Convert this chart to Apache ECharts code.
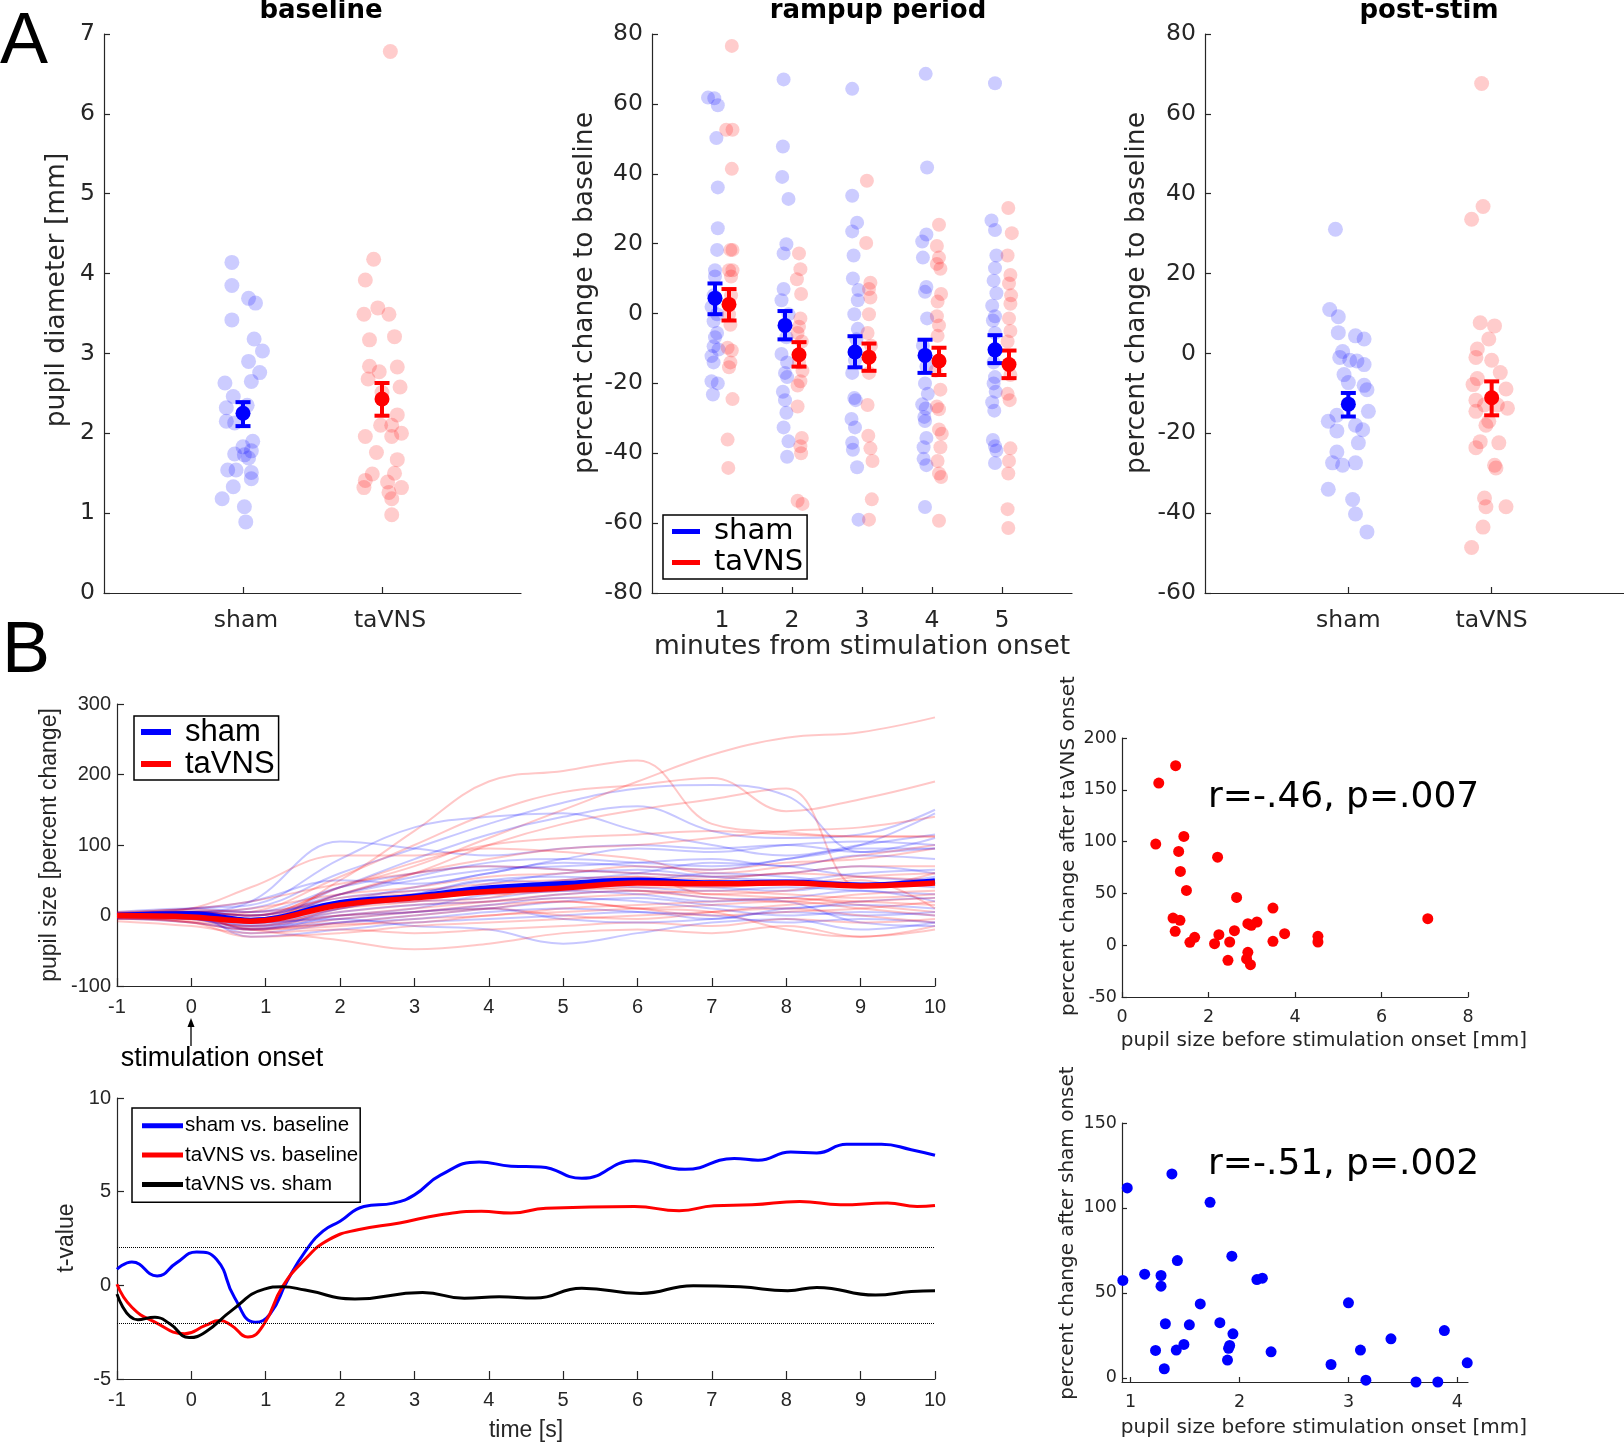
<!DOCTYPE html>
<html>
<head>
<meta charset="utf-8">
<script src="https://cdn.jsdelivr.net/npm/echarts@6/dist/echarts.min.js"></script>
<style>
  html, body { margin: 0; padding: 0; background: #fff; }
  #chart { width: 1624px; height: 1444px; }
</style>
</head>
<body>
<div id="chart"></div>
<script>
// ---- A: baseline pupil diameter [mm], points as [jittered x, value]
const groups = ['sham', 'taVNS'];
const baselineSham = [[0.92,4.14],[0.92,3.85],[1.04,3.69],[1.09,3.63],[0.92,3.42],[1.08,3.18],[1.14,3.03],[1.04,2.90],
  [1.12,2.76],[1.06,2.65],[0.87,2.63],[0.93,2.46],[0.88,2.32],[1.03,2.35],[0.88,2.15],[0.94,2.13],[1.07,1.90],[1.00,1.83],
  [0.94,1.74],[1.01,1.73],[1.06,1.78],[1.04,1.69],[0.89,1.54],[0.95,1.54],[1.06,1.51],[1.06,1.43],[0.93,1.33],[0.85,1.18],
  [1.01,1.08],[1.02,0.89]];
const baselineTavns = [[2.06,6.78],[1.94,4.18],[1.88,3.92],[1.97,3.57],[1.87,3.49],[2.05,3.49],[1.91,3.17],[2.09,3.21],
  [1.91,2.84],[2.11,2.83],[1.98,2.77],[1.90,2.68],[2.13,2.58],[2.00,2.51],[2.11,2.23],[1.99,2.10],[2.07,2.10],[1.88,1.96],
  [2.07,1.96],[2.14,2.00],[1.96,1.76],[2.11,1.67],[1.93,1.49],[2.09,1.50],[1.88,1.41],[1.87,1.32],[2.04,1.39],[2.14,1.32],
  [2.05,1.26],[2.07,1.18],[2.07,0.98]];
// [x, mean, low, high]
const baselineMeanSham = [[1, 2.25, 2.09, 2.39]];
const baselineMeanTavns = [[2, 2.43, 2.22, 2.63]];

// ---- A: rampup period, percent change, minutes 1..5
const minutes = [1, 2, 3, 4, 5];
const rampSham = [
  [0.80,61.8],[0.89,61.6],[0.94,59.6],[0.92,50.2],[0.94,36.1],[0.94,24.4],[0.93,18.2],[0.90,12.4],[0.90,10.6],[0.88,5.2],
  [0.85,1.9],[0.93,-0.2],[0.88,-2.2],[0.93,-5.6],[0.90,-6.8],[0.88,-9.4],[0.95,-10.3],[0.85,-12.2],[0.88,-14.0],[0.85,-19.4],
  [0.94,-20.0],[0.87,-23.2],
  [1.88,67.0],[1.87,47.8],[1.86,39.1],[1.95,32.8],[1.92,19.8],[1.88,17.2],[1.88,7.0],[1.85,3.8],[1.95,-0.2],[1.90,-3.2],
  [1.92,-6.8],[1.85,-11.6],[1.93,-14.0],[1.90,-17.0],[1.93,-18.2],[1.87,-22.4],[1.90,-24.8],[1.92,-28.4],[1.88,-32.6],
  [1.95,-36.6],[1.93,-41.0],
  [2.86,64.3],[2.86,33.7],[2.93,26.0],[2.86,23.5],[2.88,16.6],[2.87,10.0],[2.95,6.7],[2.94,3.8],[2.89,-0.2],[2.94,-4.4],
  [2.92,-7.4],[2.90,-13.4],[2.86,-17.0],[2.89,-24.2],[2.91,-24.8],[2.85,-30.2],[2.90,-32.6],[2.86,-37.0],[2.87,-39.0],
  [2.93,-44.0],[2.95,-59.0],
  [3.91,68.6],[3.93,41.8],[3.92,22.6],[3.86,20.6],[3.87,16.0],[3.92,7.6],[3.90,6.2],[3.93,-1.4],[3.87,-9.2],[3.92,-15.2],
  [3.90,-20.0],[3.94,-23.0],[3.86,-26.0],[3.91,-27.2],[3.89,-29.6],[3.90,-30.8],[3.92,-35.6],[3.88,-38.3],[3.88,-41.6],
  [3.92,-43.4],[3.90,-55.4],
  [4.90,65.9],[4.85,26.6],[4.90,23.9],[4.92,16.6],[4.90,13.0],[4.88,9.4],[4.92,5.8],[4.86,2.2],[4.90,-0.8],[4.87,-2.0],
  [4.90,-5.6],[4.88,-14.0],[4.90,-18.2],[4.88,-20.0],[4.91,-22.4],[4.86,-25.4],[4.89,-27.8],[4.87,-36.2],[4.90,-38.0],
  [4.92,-39.2],[4.90,-42.8]];
const rampTavns = [
  [1.14,76.6],[1.06,52.6],[1.15,52.6],[1.14,41.4],[1.12,18.2],[1.15,18.2],[1.10,12.4],[1.15,12.4],[1.13,10.6],[1.13,5.2],
  [1.10,-0.2],[1.12,-3.2],[1.08,-9.8],[1.14,-10.6],[1.12,-14.0],[1.10,-15.4],[1.15,-24.5],[1.08,-36.1],[1.09,-44.2],
  [2.10,17.2],[2.12,12.7],[2.07,9.8],[2.13,5.6],[2.12,-1.4],[2.10,-3.8],[2.08,-5.6],[2.14,-8.0],[2.10,-14.0],[2.15,-16.4],
  [2.12,-19.4],[2.08,-20.6],[2.08,-26.6],[2.14,-35.6],[2.12,-38.0],[2.13,-40.0],[2.08,-53.6],[2.15,-54.5],
  [3.07,38.0],[3.06,20.2],[3.12,8.8],[3.10,7.0],[3.12,4.6],[3.10,-0.2],[3.08,-5.6],[3.13,-9.2],[3.10,-17.0],[3.08,-26.2],
  [3.09,-35.0],[3.12,-38.6],[3.15,-42.2],[3.14,-53.2],[3.10,-59.0],
  [4.10,25.4],[4.07,19.3],[4.10,16.0],[4.07,14.2],[4.12,12.8],[4.13,5.6],[4.08,3.4],[4.07,-0.8],[4.10,-3.4],[4.08,-6.4],
  [4.05,-16.4],[4.12,-21.8],[4.07,-26.6],[4.10,-27.4],[4.10,-33.2],[4.14,-34.4],[4.12,-38.3],[4.08,-42.2],[4.10,-45.8],
  [4.13,-46.8],[4.10,-59.3],
  [5.09,30.2],[5.14,23.0],[5.08,16.6],[5.12,11.0],[5.10,8.6],[5.13,5.2],[5.12,2.8],[5.10,-1.4],[5.12,-5.0],[5.08,-8.0],
  [5.12,-17.6],[5.08,-23.0],[5.11,-24.8],[5.12,-38.6],[5.10,-42.2],[5.09,-45.8],[5.08,-56.0],[5.09,-61.4]];
const rampMeanSham = [[0.9,4.4,-0.2,8.6],[1.9,-3.4,-7.4,0.7],[2.9,-11.0,-15.4,-6.5],[3.9,-12.0,-17.0,-7.5],[4.9,-10.4,-14.2,-6.2]];
const rampMeanTavns = [[1.1,2.6,-2.0,7.0],[2.1,-11.8,-15.2,-8.2],[3.1,-12.5,-16.4,-8.6],[4.1,-13.6,-17.6,-9.8],[5.1,-14.6,-18.5,-10.6]];

// ---- A: post-stim percent change
const postSham = [[0.91,31.1],[0.87,11.0],[0.93,9.2],[0.93,5.2],[1.05,4.4],[1.11,3.6],[0.96,0.5],[0.94,-1.0],[1.01,-1.7],
  [1.06,-1.9],[1.11,-2.8],[0.97,-5.3],[1.00,-7.3],[1.11,-8.0],[1.13,-9.1],[1.14,-14.5],[0.92,-15.5],[0.86,-17.0],[1.05,-18.0],
  [1.10,-19.1],[0.92,-19.4],[1.07,-22.4],[0.92,-24.7],[0.89,-27.4],[0.96,-28.0],[1.05,-27.4],[0.86,-34.0],[1.03,-36.6],
  [1.05,-40.2],[1.13,-44.7]];
const postTavns = [[1.93,67.6],[1.94,36.8],[1.86,33.6],[1.92,7.7],[2.02,6.9],[1.98,3.6],[1.90,1.1],[1.89,-1.0],[2.00,-1.7],
  [2.06,-4.8],[1.90,-6.3],[1.87,-7.8],[2.10,-8.9],[1.89,-11.7],[1.95,-12.9],[2.04,-12.9],[2.11,-13.7],[1.89,-14.5],[1.98,-17.0],
  [1.96,-18.0],[1.92,-22.1],[2.05,-22.4],[1.89,-23.6],[2.02,-28.0],[2.03,-28.7],[1.95,-36.2],[1.96,-38.4],[2.10,-38.4],
  [1.94,-43.5],[1.86,-48.6]];
const postMeanSham = [[1, -12.7, -15.8, -9.9]];
const postMeanTavns = [[2, -11.1, -15.5, -7.0]];

// ---- B: pupil size time courses [percent change], sampled on timeGrid
const timeGrid = [-1, 0, 0.8, 2, 3, 4, 5, 6, 7, 8, 9, 10];
const shamTraces = [
  [0, 5, 10, 60, 95, 130, 160, 180, 185, 170, 90, 110],
  [2, 0, -5, 40, 80, 115, 140, 155, 120, 110, 115, 150],
  [-2, 10, 15, 80, 125, 140, 145, 120, 100, 85, 100, 115],
  [0, 0, -10, -5, -15, -20, -40, -25, -10, -5, -20, -10],
  [3, 5, 20, 105, 95, 85, 95, 100, 95, 100, 90, 95],
  [0, 0, -10, 30, 55, 75, 80, 75, 70, 80, 100, 145],
  [-3, 5, -5, 20, 40, 60, 75, 70, 65, 80, 95, 95],
  [0, 0, -20, 10, 25, 45, 60, 65, 55, 50, 60, 65],
  [-5, -5, -25, -10, 0, 10, 20, 25, 15, 10, 20, 25],
  [2, 5, 0, 25, 35, 40, 50, 60, 75, 70, 55, 50],
  [5, 10, 5, 20, 30, 50, 45, 40, 35, 40, 35, 30],
  [0, 0, -30, -20, -10, -5, 0, 5, -5, 10, 15, 10],
  [-2, -5, -15, 5, 15, 20, 30, 35, 25, 20, -10, -15],
  [3, 5, 5, 40, 60, 70, 65, 60, 55, 60, 70, 60],
  [0, 0, -15, -5, 5, 10, -5, -10, -5, 5, 0, 5],
  [4, 10, 20, 50, 45, 60, 80, 95, 90, 100, 105, 100],
  [-4, -10, -20, 0, 10, 30, 35, 45, 40, 35, 45, 40],
  [0, 0, -5, 15, 20, 25, 35, 30, 20, 25, 35, 20],
  [1, 3, -10, 10, 30, 50, 55, 50, 60, 55, 45, 55],
  [-1, -2, -12, 0, 5, 15, 25, 20, 10, 0, 5, 0],
  [2, 6, 0, 30, 50, 65, 70, 75, 80, 70, 85, 80],
  [0, -4, -18, -10, -5, 5, 10, 5, 0, -10, -5, -10]];
const tavnsTraces = [
  [2, 5, 0, 40, 70, 110, 150, 190, 228, 252, 260, 281],
  [0, -5, -10, 50, 120, 190, 205, 220, 130, 118, 112, 112],
  [-3, 0, 5, 55, 100, 145, 175, 185, 195, 148, 165, 190],
  [3, 5, 0, 30, 60, 100, 130, 150, 165, 180, 40, 60],
  [0, 10, 40, 85, 85, 95, 90, 80, 60, 70, 85, 100],
  [-2, 0, -5, 30, 60, 80, 95, 100, 110, 120, 125, 140],
  [0, 5, 0, 40, 75, 100, 110, 115, 120, 115, 112, 112],
  [-5, -5, -20, -35, -48, -40, -25, -20, -25, -15, -30, -20],
  [0, -10, -20, -10, 0, 10, 20, 10, 5, -20, -30, -15],
  [-3, -10, -20, -15, -5, 0, 10, 15, 20, 25, 15, 5],
  [0, -5, -15, 10, 25, 35, 45, 55, 50, 45, 55, 60],
  [2, 0, -10, 5, 15, 20, 25, 30, 35, 30, 25, 30],
  [-8, -15, -25, -20, -25, -20, -15, -10, -15, -5, -10, -5],
  [4, 5, 10, 30, 40, 55, 60, 70, 65, 75, 80, 95],
  [0, 0, -20, -5, 5, 15, 20, 10, 0, 5, 10, 20],
  [5, 10, 20, 45, 60, 70, 65, 60, 55, 60, 70, 70],
  [-5, -10, -30, -25, -15, -10, -5, 0, 5, 10, 0, -10],
  [0, 5, 0, 20, 30, 30, 35, 40, 40, 45, 40, 45],
  [-2, -5, -10, 0, 5, 10, 0, -5, 5, 15, 20, 25],
  [3, 0, -5, 15, 20, 25, 50, 55, 30, 35, 50, 10],
  [0, -8, -15, 0, 10, 20, 30, 35, 30, 25, 20, 15],
  [2, 8, 5, 25, 35, 45, 50, 45, 50, 60, 55, 50],
  [-4, -3, -18, -12, -10, 0, 5, 10, 15, 20, 10, 0],
  [1, 3, -8, 10, 20, 35, 40, 35, 25, 20, 30, 35]];
const shamMeanTrace = [0, 2, -7, 18, 27, 39, 45, 50, 46, 47, 43, 49];
const tavnsMeanTrace = [0, -2, -8, 15, 25, 34, 39, 46, 45, 46, 42, 46];

// ---- B: t-values over time [t, value]
const tShamBase = [[-1,0.86],[-0.8,1.25],[-0.46,0.5],[-0.2,1.2],[0.07,1.78],[0.34,1.38],[0.58,-0.65],[0.86,-1.97],[1.06,-1.52],
  [1.29,0.24],[1.53,1.8],[1.77,2.89],[2.0,3.42],[2.32,4.21],[2.72,4.39],[3.0,4.83],[3.35,5.88],[3.87,6.59],[4.3,6.36],[4.7,6.32],
  [5.25,5.71],[5.96,6.65],[6.64,6.19],[7.3,6.77],[7.62,6.68],[8.06,7.12],[8.41,7.07],[8.81,7.53],[9.28,7.53],[9.68,7.24],[10,6.94]];
const tTavnsBase = [[-1,0.06],[-0.8,-1.17],[-0.49,-1.96],[-0.09,-2.58],[0.19,-2.14],[0.38,-1.88],[0.54,-2.14],[0.76,-2.76],
  [0.98,-2.05],[1.22,-0.11],[1.53,1.39],[1.85,2.44],[2.24,2.97],[2.8,3.33],[3.35,3.77],[3.9,3.95],[4.3,3.86],[4.77,4.12],
  [5.96,4.21],[6.56,3.98],[7.03,4.25],[7.54,4.3],[8.18,4.48],[8.73,4.3],[9.36,4.39],[9.76,4.21],[10,4.26]];
const tTavnsSham = [[-1,-0.47],[-0.72,-1.84],[-0.49,-1.7],[-0.29,-2.05],[-0.03,-2.79],[0.19,-2.49],[0.54,-1.35],[0.98,-0.2],
  [1.22,-0.08],[1.53,-0.25],[2.2,-0.73],[3.11,-0.38],[3.67,-0.69],[4.14,-0.61],[4.62,-0.68],[5.25,-0.15],[6.04,-0.43],
  [6.75,-0.02],[7.38,-0.08],[8.02,-0.29],[8.41,-0.11],[9.2,-0.52],[9.68,-0.33],[10,-0.29]];
const tCrit = [2.04, -2.04];

// ---- B: correlations [pupil size before onset mm, percent change]
const corrTavns = [[1.24,173.3],[0.85,156.5],[0.78,97.6],[1.43,105.0],[1.31,90.5],[1.35,71.2],[1.49,52.9],[2.21,85.0],[2.65,46.1],
  [3.49,35.8],[1.18,26.2],[1.34,24.0],[1.23,13.4],[1.57,2.8],[1.68,7.6],[2.14,1.5],[2.24,10.2],[2.49,3.1],[2.60,14.0],[2.45,-14.6],
  [2.91,20.8],[2.99,19.2],[3.12,22.4],[2.91,-6.9],[2.88,-13.3],[2.97,-18.8],[3.49,3.7],[3.76,11.1],[4.53,8.6],[4.53,3.1],[7.07,25.6]];
const corrSham = [[0.93,57.3],[0.97,111.8],[1.13,61.0],[1.28,60.2],[1.28,53.9],[1.38,120.0],[1.43,69.0],[1.73,103.3],[1.93,71.6],
  [2.16,57.8],[2.21,58.6],[1.64,43.5],[1.32,31.8],[1.54,31.2],[1.82,32.4],[1.94,25.9],[1.23,16.1],[1.42,16.3],[1.49,19.6],
  [1.91,19.0],[1.90,17.3],[1.89,10.4],[1.31,5.3],[2.29,15.3],[2.84,7.8],[3.00,44.1],[3.11,16.3],[3.16,-1.4],[3.39,22.9],
  [3.62,-2.5],[3.82,-2.5],[3.88,27.8],[4.09,8.8]];

const BLUE = '#0000ff', RED = '#ff0000', AX = '#262626';
const FA = 'DejaVu Sans', FB = 'Liberation Sans';

const chart = echarts.init(document.getElementById('chart'), null, { renderer: 'canvas' });

function grid(left, top, width, height) {
  return { left, top, width, height, containLabel: false, outerBoundsMode: 'none' };
}
function axis(gi, min, max, opts) {
  const o = opts || {};
  const font = o.font || FA, size = o.size || 23.5;
  const a = {
    gridIndex: gi, type: 'value', min, max, scale: true,
    axisLine: { show: true, onZero: false, lineStyle: { color: AX, width: 1.2 } },
    axisTick: { show: true, inside: true, length: o.tick || 6, lineStyle: { color: AX, width: 1.2 } },
    axisLabel: { show: true, color: AX, fontFamily: font, fontSize: size, margin: o.margin || 10,
      showMinLabel: true, showMaxLabel: true },
    splitLine: { show: false }
  };
  if (o.interval) a.interval = o.interval;
  if (o.custom) { a.axisTick.customValues = o.custom; a.axisLabel.customValues = o.custom; }
  if (o.formatter) a.axisLabel.formatter = o.formatter;
  if (o.rich) a.axisLabel.rich = o.rich;
  return a;
}
// group labels sit a little right of their ticks in the original figure
const groupRich = {
  s: { fontFamily: FA, fontSize: 23.5, color: AX, padding: [0, 0, 0, 6] },
  t: { fontFamily: FA, fontSize: 23.5, color: AX, padding: [0, 0, 0, 16] }
};
function dots(data, color, gi, size) {
  return { type: 'scatter', xAxisIndex: gi, yAxisIndex: gi, data, symbolSize: size || 15, silent: true, z: 2,
    itemStyle: { color, opacity: 0.2 } };
}
function meanDot(name, data, color, gi) {
  return { type: 'scatter', name, xAxisIndex: gi, yAxisIndex: gi, data: data.map(d => [d[0], d[1]]),
    symbolSize: 15, silent: true, z: 6, itemStyle: { color, opacity: 1 } };
}
function errBar(data, color, gi) {
  return {
    type: 'custom', xAxisIndex: gi, yAxisIndex: gi, silent: true, z: 5,
    data: data.map(d => [d[0], d[2], d[3]]),
    renderItem: function (params, api) {
      const hi = api.coord([api.value(0), api.value(2)]);
      const lo = api.coord([api.value(0), api.value(1)]);
      const w = 7.5;
      const st = { stroke: color, lineWidth: 4 };
      return { type: 'group', children: [
        { type: 'line', shape: { x1: hi[0], y1: hi[1], x2: lo[0], y2: lo[1] }, style: st },
        { type: 'line', shape: { x1: hi[0] - w, y1: hi[1], x2: hi[0] + w, y2: hi[1] }, style: st },
        { type: 'line', shape: { x1: lo[0] - w, y1: lo[1], x2: lo[0] + w, y2: lo[1] }, style: st }
      ] };
    }
  };
}
function trace(vals, color, width, z, name) {
  return { type: 'line', name, xAxisIndex: 3, yAxisIndex: 3, smooth: 0.4, showSymbol: false, silent: true, z,
    data: timeGrid.map((t, i) => [t, vals[i]]), lineStyle: { color, width }, itemStyle: { color } };
}
function tLine(name, data, color, extra) {
  return Object.assign({ type: 'line', name, xAxisIndex: 4, yAxisIndex: 4, smooth: 0.5, showSymbol: false, silent: true,
    z: 3, data, lineStyle: { color, width: 3 }, itemStyle: { color } }, extra || {});
}

const series = [];
// A baseline
series.push(dots(baselineSham, BLUE, 0), dots(baselineTavns, RED, 0));
series.push(errBar(baselineMeanSham, BLUE, 0), errBar(baselineMeanTavns, RED, 0));
series.push(meanDot('', baselineMeanSham, BLUE, 0), meanDot('', baselineMeanTavns, RED, 0));
// A rampup
series.push(dots(rampSham, BLUE, 1, 14), dots(rampTavns, RED, 1, 14));
series.push(errBar(rampMeanSham, BLUE, 1), errBar(rampMeanTavns, RED, 1));
series.push(meanDot('sham', rampMeanSham, BLUE, 1), meanDot('taVNS', rampMeanTavns, RED, 1));
// A post-stim
series.push(dots(postSham, BLUE, 2), dots(postTavns, RED, 2));
series.push(errBar(postMeanSham, BLUE, 2), errBar(postMeanTavns, RED, 2));
series.push(meanDot('', postMeanSham, BLUE, 2), meanDot('', postMeanTavns, RED, 2));
// B time courses
const nTr = Math.max(shamTraces.length, tavnsTraces.length);
for (let i = 0; i < nTr; i++) {
  if (shamTraces[i]) series.push(trace(shamTraces[i], 'rgba(0,0,255,0.22)', 2, 2));
  if (tavnsTraces[i]) series.push(trace(tavnsTraces[i], 'rgba(255,0,0,0.22)', 2, 2));
}
series.push(trace(shamMeanTrace, BLUE, 5.5, 4, 'sham'), trace(tavnsMeanTrace, RED, 5.5, 5, 'taVNS'));
// B t-values
series.push(tLine('sham vs. baseline', tShamBase, BLUE, {
  markLine: { silent: true, symbol: 'none', label: { show: false },
    lineStyle: { color: '#000', type: 'dotted', width: 1 }, data: tCrit.map(v => ({ yAxis: v })) }
}));
series.push(tLine('taVNS vs. baseline', tTavnsBase, RED));
series.push(tLine('taVNS vs. sham', tTavnsSham, '#000'));
// B correlations
series.push({ type: 'scatter', xAxisIndex: 5, yAxisIndex: 5, data: corrTavns, symbolSize: 11, silent: true, itemStyle: { color: RED, opacity: 1 } });
series.push({ type: 'scatter', xAxisIndex: 6, yAxisIndex: 6, data: corrSham, symbolSize: 11, silent: true, itemStyle: { color: BLUE, opacity: 1 } });

function legendBox(left, top, names, o) {
  return {
    left, top, orient: 'vertical', selectedMode: false, icon: 'rect',
    data: names.map((n, i) => ({ name: n, itemStyle: { color: o.colors[i], borderWidth: 0, opacity: 1 } })),
    itemWidth: o.w, itemHeight: o.h, itemGap: 0, padding: o.pad,
    backgroundColor: '#fff', borderColor: '#000', borderWidth: 1.5, borderRadius: 0,
    lineStyle: { width: 0 },
    textStyle: { fontFamily: o.font, fontSize: o.size, color: '#000', lineHeight: o.lh, padding: [0, 0, 0, o.gap] }
  };
}

function txt(text, x, y, size, opts) {
  const o = opts || {};
  return { type: 'text', x, y, rotation: o.rot || 0, silent: true, z: 100,
    style: { text, fontFamily: o.font || FA, fontSize: size, fontWeight: o.bold ? 'bold' : 'normal',
      fill: o.color || AX, align: o.align || 'center', verticalAlign: 'middle' } };
}
const V = Math.PI / 2;

const option = {
  animation: false,
  backgroundColor: '#fff',
  grid: [
    grid(104, 34, 417, 559),
    grid(652, 34, 420, 559),
    grid(1205, 34, 430, 559),
    grid(117, 704, 818, 282),
    grid(117, 1098, 818, 281),
    grid(1122, 738, 346, 259),
    grid(1122, 1123, 346, 259)
  ],
  xAxis: [
    axis(0, 0, 3, { custom: [1, 2], formatter: v => (v === 1 ? '{s|' : '{t|') + groups[v - 1] + '}', rich: groupRich, margin: 16 }),
    axis(1, 0, 6, { custom: minutes, margin: 16 }),
    axis(2, 0, 3, { custom: [1, 2], formatter: v => groups[v - 1], margin: 16 }),
    axis(3, -1, 10, { interval: 1, font: FB, size: 20, tick: 8, margin: 11 }),
    axis(4, -1, 10, { interval: 1, font: FB, size: 20, tick: 8, margin: 11 }),
    axis(5, 0, 8, { interval: 2, size: 17.5, tick: 5, margin: 11 }),
    axis(6, 0.922, 4.097, { custom: [1, 2, 3, 4], size: 17.5, tick: 5, margin: 11 })
  ],
  yAxis: [
    axis(0, 0, 7, { interval: 1, margin: 9 }),
    axis(1, -80, 80, { interval: 20, margin: 9 }),
    axis(2, -60, 80, { interval: 20, margin: 9 }),
    axis(3, -100, 300, { interval: 100, font: FB, size: 20, tick: 7, margin: 6 }),
    axis(4, -5, 10, { interval: 5, font: FB, size: 20, tick: 7, margin: 6 }),
    axis(5, -50, 200, { interval: 50, size: 17.5, tick: 5, margin: 5 }),
    axis(6, -2.5, 150, { custom: [0, 50, 100, 150], size: 17.5, tick: 5, margin: 5 })
  ],
  legend: [
    legendBox(663, 515, ['sham', 'taVNS'], { colors: [BLUE, RED], w: 28, h: 5, pad: [1, 4, 1, 9], font: FA, size: 29, lh: 31, gap: 9 }),
    legendBox(134, 716, ['sham', 'taVNS'], { colors: [BLUE, RED], w: 30, h: 6, pad: [0, 4, 0, 7], font: FB, size: 31, lh: 32, gap: 9 }),
    legendBox(132, 1108, ['sham vs. baseline', 'taVNS vs. baseline', 'taVNS vs. sham'],
      { colors: [BLUE, RED, '#000'], w: 41, h: 5, pad: [3, 2, 3, 10], font: FB, size: 20.5, lh: 29.4, gap: -3 })
  ],
  graphic: [
    txt('A', 24, 43, 72, { font: FB, color: '#000' }),
    txt('B', 26, 652, 72, { font: FB, color: '#000' }),
    txt('baseline', 321, 11, 26, { bold: true, color: '#000' }),
    txt('rampup period', 878, 11, 26, { bold: true, color: '#000' }),
    txt('post-stim', 1429, 11, 26, { bold: true, color: '#000' }),
    txt('pupil diameter [mm]', 57, 290, 26.5, { rot: V }),
    txt('percent change to baseline', 585, 293, 26.5, { rot: V }),
    txt('percent change to baseline', 1137, 293, 26.5, { rot: V }),
    txt('minutes from stimulation onset', 862, 647, 26.5),
    txt('pupil size [percent change]', 50, 845, 23, { font: FB, rot: V }),
    txt('stimulation onset', 222, 1059, 27, { font: FB, color: '#000' }),
    txt('t-value', 67, 1238, 23, { font: FB, rot: V }),
    txt('time [s]', 526, 1431, 23, { font: FB }),
    txt('percent change after taVNS onset', 1069, 846, 20, { rot: V }),
    txt('pupil size before stimulation onset [mm]', 1324, 1041, 20),
    txt('percent change after sham onset', 1068, 1233, 20, { rot: V }),
    txt('pupil size before stimulation onset [mm]', 1324, 1428, 20),
    txt('r=-.46, p=.007', 1208, 798, 36, { align: 'left', color: '#000' }),
    txt('r=-.51, p=.002', 1208, 1165, 36, { align: 'left', color: '#000' }),
    { type: 'line', silent: true, shape: { x1: 191, y1: 1046, x2: 191, y2: 1024 }, style: { stroke: '#000', lineWidth: 1.3 } },
    { type: 'polygon', silent: true, shape: { points: [[191, 1018], [187.5, 1027], [194.5, 1027]] }, style: { fill: '#000' } }
  ],
  series
};
chart.setOption(option);
</script>
</body>
</html>
